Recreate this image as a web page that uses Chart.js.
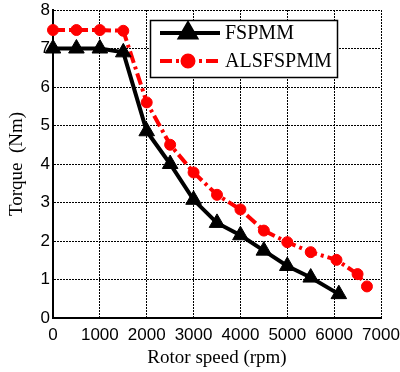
<!DOCTYPE html>
<html><head><meta charset="utf-8">
<script src="https://cdn.jsdelivr.net/npm/chart.js@4/dist/chart.umd.min.js"></script>
<style>html,body{margin:0;padding:0;background:#fff;}#wrap{width:400px;height:372px;position:relative;}</style>
</head><body><div id="wrap"><canvas id="c" width="400" height="372"></canvas></div>
<script>
const seriesNames = ['FSPMM', 'ALSFSPMM'];
const speedF = [0, 500, 1000, 1500, 2000, 2500, 3000, 3500, 4000, 4500, 5000, 5500, 6100];
const torqueF = [7.0, 7.0, 7.0, 6.9, 4.85, 4.0, 3.07, 2.47, 2.15, 1.75, 1.35, 1.05, 0.62];
const speedA = [0, 500, 1000, 1500, 2000, 2500, 3000, 3500, 4000, 4500, 5000, 5500, 6050, 6500, 6700];
const torqueA = [7.48, 7.48, 7.48, 7.46, 5.6, 4.5, 3.78, 3.2, 2.82, 2.27, 1.97, 1.71, 1.51, 1.14, 0.82];
const xTicks = [0, 1000, 2000, 3000, 4000, 5000, 6000, 7000];
const yTicks = [0, 1, 2, 3, 4, 5, 6, 7, 8];
const xTitle = 'Rotor speed (rpm)';
const yTitle = 'Torque  (Nm)';

const RED_DASH = [12, 4, 3, 4];

const legendPlugin = {
  id: 'boxLegend',
  afterDraw(chart) {
    const ctx = chart.ctx;
    ctx.save();
    const bx = 150, by = 20, bw = 187, bh = 57;
    ctx.fillStyle = '#fff';
    ctx.fillRect(bx, by, bw, bh);
    ctx.strokeStyle = '#000';
    ctx.lineWidth = 1.5;
    ctx.strokeRect(bx + 0.5, by + 0.5, bw, bh);
    const rows = [33, 61];
    chart.data.datasets.forEach((ds, i) => {
      const y = rows[i];
      ctx.strokeStyle = ds.borderColor;
      ctx.lineWidth = ds.borderWidth;
      ctx.setLineDash(ds.borderDash || []);
      ctx.beginPath(); ctx.moveTo(160, y); ctx.lineTo(220, y); ctx.stroke();
      ctx.setLineDash([]);
      Chart.helpers.drawPoint(ctx, {pointStyle: ds.pointStyle, radius: ds.pointRadius, borderWidth: 1}, 188, y);
      ctx.fillStyle = ds.pointBackgroundColor;
      ctx.fill();
      ctx.fillStyle = '#000';
      ctx.font = '20px "Liberation Serif"';
      ctx.textBaseline = 'middle';
      ctx.textAlign = 'left';
      ctx.fillText(ds.label, 225, y + 1);
    });
    ctx.restore();
  }
};

const toPts = (xs, ys) => xs.map((x, i) => ({x: x, y: ys[i]}));

new Chart(document.getElementById('c'), {
  type: 'line',
  data: {
    datasets: [
      {
        label: seriesNames[0], data: toPts(speedF, torqueF),
        borderColor: '#000', backgroundColor: '#000', borderWidth: 4,
        pointStyle: 'triangle', pointRadius: 9, pointBackgroundColor: '#000', pointBorderColor: '#000', pointBorderWidth: 1,
        clip: false, tension: 0
      },
      {
        label: seriesNames[1], data: toPts(speedA, torqueA),
        borderColor: '#ff0000', backgroundColor: '#ff0000', borderWidth: 4, borderDash: RED_DASH,
        pointStyle: 'circle', pointRadius: 5.5, pointBackgroundColor: '#ff0000', pointBorderColor: '#ff0000', pointBorderWidth: 1,
        clip: false, tension: 0
      }
    ]
  },
  options: {
    responsive: false, animation: false, devicePixelRatio: 1,
    layout: {padding: {left: 0, right: 19, top: 10, bottom: 0}},
    plugins: {legend: {display: false}, tooltip: {enabled: false}},
    scales: {
      x: {
        type: 'linear', min: 0, max: 7000,
        afterBuildTicks: s => { s.ticks = xTicks.map(v => ({value: v})); },
        afterFit: s => { s.height = 54; s.paddingLeft = 0; s.paddingRight = 0; },
        ticks: {color: '#000', font: {family: 'Liberation Sans', size: 17}, padding: 7, maxRotation: 0, autoSkip: false,
                callback: v => String(v)},
        grid: {color: '#000', lineWidth: 1, drawTicks: false},
        border: {display: true, color: '#000', width: 2, dash: [2, 1]},
        title: {display: true, text: xTitle, color: '#000', font: {family: 'Liberation Serif', size: 19}, padding: {top: 2, bottom: 3}}
      },
      y: {
        type: 'linear', min: 0, max: 8,
        afterBuildTicks: s => { s.ticks = yTicks.map(v => ({value: v})); },
        afterFit: s => { s.width = 53; s.paddingTop = 0; s.paddingBottom = 0; },
        ticks: {color: '#000', font: {family: 'Liberation Sans', size: 17}, padding: 3, callback: v => String(v)},
        grid: {color: '#000', lineWidth: 1, drawTicks: false},
        border: {display: true, color: '#000', width: 2, dash: [2, 1]},
        title: {display: true, text: yTitle, color: '#000', font: {family: 'Liberation Serif', size: 19}, padding: {top: 6, bottom: 2}}
      }
    }
  },
  plugins: [legendPlugin]
});
</script></body></html>
